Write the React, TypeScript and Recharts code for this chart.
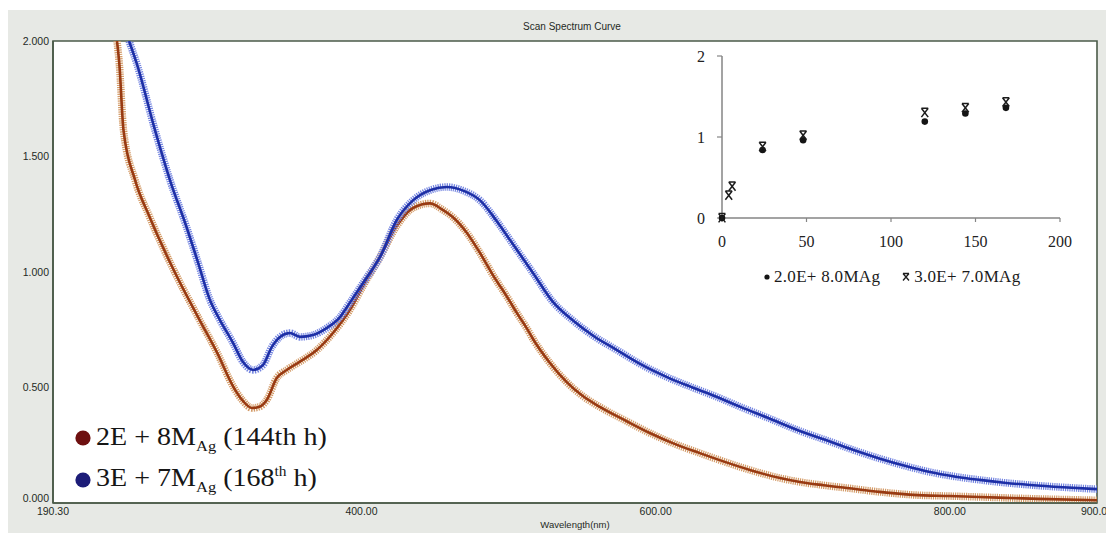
import React from 'react';
import {
  LineChart,
  Line,
  XAxis,
  YAxis,
  CartesianGrid,
  ReferenceArea,
  ScatterChart,
  Scatter,
} from 'recharts';

// Absorbance spectrum, 2E + 8M_Ag sample at the 144th hour
const wavelength2E8M = [
  233.8, 235.4, 238.2, 246, 256, 273, 290, 302, 313, 319, 325.6, 331, 335.6, 342.4,
  349.2, 358.2, 369.6, 380.6, 392, 402, 412.6, 424, 435, 446.6, 455, 462, 471.7, 480.6,
  490, 499, 505.7, 512.5, 516.6, 528, 539.7, 550, 562, 580, 596, 612, 630, 647, 664,
  684.5, 698, 714, 730, 752, 775, 800, 820, 860, 900,
];
const absorbance2E8M = [
  2.0, 1.9, 1.615, 1.4, 1.238, 1.0, 0.792, 0.649, 0.502, 0.445, 0.411, 0.418, 0.446, 0.541,
  0.576, 0.612, 0.662, 0.736, 0.835, 0.95, 1.065, 1.2, 1.277, 1.297, 1.27, 1.238, 1.169, 1.082,
  0.98, 0.892, 0.822, 0.755, 0.71, 0.607, 0.522, 0.465, 0.416, 0.355, 0.303, 0.258, 0.216, 0.178, 0.143,
  0.108, 0.091, 0.077, 0.065, 0.048, 0.035, 0.03, 0.026, 0.018, 0.012,
];

// Absorbance spectrum, 3E + 7M_Ag sample at the 168th hour
const wavelength3E7M = [
  242, 247.2, 259.6, 269.8, 281, 288.8, 297, 303.8, 312.7, 319.5, 326.3, 333, 339, 344.6,
  351.4, 358.2, 367, 376.5, 385.4, 392, 402.4, 412.6, 424, 435, 447, 458, 470, 480.6,
  492, 503, 516.6, 530, 543.8, 558, 573.7, 590, 607.7, 625, 641.7, 658, 675.7, 698,
  718.5, 735, 752.5, 770, 786.5, 803, 820.4, 837, 854.5, 877, 900,
];
const absorbance3E7M = [
  2.0, 1.903, 1.615, 1.398, 1.196, 1.043, 0.879, 0.792, 0.693, 0.61, 0.576, 0.597, 0.675, 0.719,
  0.736, 0.719, 0.727, 0.758, 0.805, 0.866, 0.965, 1.065, 1.225, 1.31, 1.355, 1.368, 1.35, 1.31,
  1.22, 1.12, 0.996, 0.872, 0.79, 0.722, 0.662, 0.6, 0.545, 0.5, 0.459, 0.415, 0.37, 0.312,
  0.266, 0.228, 0.192, 0.16, 0.134, 0.115, 0.1, 0.088, 0.078, 0.068, 0.06,
];

const wavelengthTicks = [190.3, 400, 600, 800, 900];
const absorbanceTicks = [0, 0.5, 1, 1.5, 2];

// Inset: plasmon peak absorbance against reaction time (hours)
const hours2E8M = [0, 24, 48, 120, 144, 168];
const peak2E8M = [0, 0.84, 0.96, 1.19, 1.29, 1.36];
const hours3E7M = [0, 4, 6, 24, 48, 120, 144, 168];
const peak3E7M = [0, 0.28, 0.39, 0.88, 1.02, 1.3, 1.36, 1.43];
const hourTicks = [0, 50, 100, 150, 200];
const peakTicks = [0, 1, 2];

const spectrum2E8M = wavelength2E8M.map((w, i) => ({ w, a: absorbance2E8M[i] }));
const spectrum3E7M = wavelength3E7M.map((w, i) => ({ w, a: absorbance3E7M[i] }));
const inset2E8M = hours2E8M.map((t, i) => ({ t, p: peak2E8M[i] }));
const inset3E7M = hours3E7M.map((t, i) => ({ t, p: peak3E7M[i] }));

const PANEL = '#e7e9e5';
const FRAME = '#4b5b49';
const SERIF = '"Liberation Serif", "Times New Roman", serif';
const SANS = '"Liberation Sans", Arial, sans-serif';

const axisTick = { fontSize: 10.5, fill: '#1f2a1f', fontFamily: SANS };
const insetTick = { fontSize: 16, fill: '#222', fontFamily: SERIF };

// Absorbance labels; the bottom one sits a little above its gridline
const AbsorbanceTick = (props: any) => {
  const { x, y, payload } = props;
  const lift = payload.value === 0 ? -5 : 0;
  return (
    <text x={x} y={y + lift} dy="0.355em" textAnchor="end" {...axisTick}>
      {Number(payload.value).toFixed(3)}
    </text>
  );
};

const DotMark = (props: any) => {
  const { cx, cy } = props;
  if (cx == null || cy == null) return null;
  return <circle cx={cx} cy={cy} r={3.3} fill="#141414" />;
};

const StarMark = (props: any) => {
  const { cx, cy } = props;
  if (cx == null || cy == null) return null;
  const w = 3.4;
  const h = 4.4;
  return (
    <path
      d={`M${cx - w},${cy - h} L${cx + w},${cy + h} M${cx + w},${cy - h} L${cx - w},${cy + h} M${cx - w},${cy - h} H${cx + w}`}
      stroke="#1c1c1c"
      strokeWidth={1.5}
      fill="none"
    />
  );
};

const sampleRows = [
  { color: '#6e1010', lead: '2E + 8M', tail: ['(144th h)'], top: 414 },
  { color: '#1c1c78', lead: '3E + 7M', tail: ['(168', 'th', ' h)'], top: 456 },
];

export default function App() {
  return (
    <div
      style={{
        position: 'relative',
        top: 2,
        width: 1104,
        height: 525,
        background: PANEL,
      }}
    >
      <LineChart width={1104} height={525} margin={{ top: 31, right: 15, bottom: 2, left: 0 }}>
        <CartesianGrid fill="#ffffff" horizontal={false} vertical={false} />
        <XAxis
          type="number"
          dataKey="w"
          domain={[190.3, 900]}
          ticks={wavelengthTicks}
          tickFormatter={(v: number) => v.toFixed(2)}
          tick={axisTick}
          tickLine={false}
          tickSize={0}
          tickMargin={5}
          height={30}
          axisLine={{ stroke: FRAME, strokeWidth: 1.6 }}
          allowDataOverflow
          label={{
            value: 'Wavelength(nm)',
            position: 'insideBottom',
            offset: 5,
            style: { fontSize: 9.5, fill: '#1f2a1f', fontFamily: SANS },
          }}
        />
        <YAxis
          type="number"
          domain={[0, 2]}
          ticks={absorbanceTicks}
          tick={AbsorbanceTick}
          tickLine={false}
          tickSize={0}
          tickMargin={4}
          width={45}
          axisLine={{ stroke: FRAME, strokeWidth: 1.6 }}
          allowDataOverflow
        />
        {/* broad textured band, then a darker centre line, per spectrum */}
        <Line
          data={spectrum2E8M}
          dataKey="a"
          type="monotone"
          stroke="#d39a66"
          strokeWidth={7.5}
          strokeDasharray="1.2 1"
          dot={false}
          isAnimationActive={false}
        />
        <Line
          data={spectrum2E8M}
          dataKey="a"
          type="monotone"
          stroke="#983a12"
          strokeWidth={2.6}
          dot={false}
          isAnimationActive={false}
        />
        <Line
          data={spectrum3E7M}
          dataKey="a"
          type="monotone"
          stroke="#7384e0"
          strokeWidth={7.5}
          strokeDasharray="1.2 1"
          dot={false}
          isAnimationActive={false}
        />
        <Line
          data={spectrum3E7M}
          dataKey="a"
          type="monotone"
          stroke="#1d2fa6"
          strokeWidth={2.6}
          dot={false}
          isAnimationActive={false}
        />
        <ReferenceArea
          x1={190.3}
          x2={900}
          y1={0}
          y2={2}
          fill="none"
          stroke={FRAME}
          strokeWidth={1.6}
          ifOverflow="visible"
        />
      </LineChart>

      {/* chart title */}
      <div
        style={{
          position: 'absolute',
          left: 464,
          width: 200,
          top: 10,
          textAlign: 'center',
          fontFamily: SANS,
          fontSize: 10,
          color: '#1f2a1f',
          lineHeight: '14px',
        }}
      >
        Scan Spectrum Curve
      </div>

      {/* inset: peak absorbance vs time */}
      <div style={{ position: 'absolute', left: 682, top: 35 }}>
        <ScatterChart width={385} height={245} margin={{ top: 11, right: 15, bottom: 42, left: 5 }}>
          <XAxis
            type="number"
            dataKey="t"
            domain={[0, 200]}
            ticks={hourTicks}
            tick={insetTick}
            tickSize={4}
            tickMargin={14}
            height={30}
            axisLine={{ stroke: '#858585', strokeWidth: 1.5 }}
            tickLine={{ stroke: '#858585', strokeWidth: 1.2 }}
          />
          <YAxis
            type="number"
            dataKey="p"
            domain={[0, 2]}
            ticks={peakTicks}
            tick={insetTick}
            tickSize={5}
            tickMargin={12}
            width={27}
            axisLine={{ stroke: '#858585', strokeWidth: 1.5 }}
            tickLine={{ stroke: '#858585', strokeWidth: 1.2 }}
          />
          <Scatter data={inset2E8M} shape={DotMark} isAnimationActive={false} />
          <Scatter data={inset3E7M} shape={StarMark} isAnimationActive={false} />
        </ScatterChart>
        <div
          style={{
            position: 'absolute',
            left: 72,
            top: 222,
            display: 'flex',
            alignItems: 'center',
            fontFamily: SERIF,
            fontSize: 17,
            letterSpacing: 0.3,
            color: '#1a1a1a',
            whiteSpace: 'nowrap',
            lineHeight: '20px',
          }}
        >
          <svg width={10} height={12} style={{ marginRight: 2 }}>
            <circle cx={5} cy={6} r={2.6} fill="#141414" />
          </svg>
          <span>2.0E+ 8.0MAg</span>
          <svg width={12} height={12} style={{ marginLeft: 20, marginRight: 2 }}>
            <path d="M3,2.5 L9,9.5 M9,2.5 L3,9.5 M3,2.5 H9" stroke="#1c1c1c" strokeWidth={1.3} fill="none" />
          </svg>
          <span>3.0E+ 7.0MAg</span>
        </div>
      </div>

      {/* sample legend */}
      {sampleRows.map((row, k) => (
        <div
          key={k}
          style={{
            position: 'absolute',
            left: 67,
            top: row.top,
            height: 28,
            display: 'flex',
            alignItems: 'center',
            fontFamily: SERIF,
            fontSize: 25.5,
            color: '#161616',
            whiteSpace: 'nowrap',
          }}
        >
          <svg width={16} height={16} style={{ marginRight: 5 }}>
            <circle cx={8} cy={8} r={7.6} fill={row.color} />
          </svg>
          <span
            style={{
              lineHeight: '28px',
              display: 'inline-block',
              transform: 'scaleX(1.1)',
              transformOrigin: 'left center',
            }}
          >
            {row.lead}
            <span style={{ fontSize: 15, position: 'relative', top: 6 }}>Ag</span>
            {' '}
            {row.tail.length === 1 ? (
              row.tail[0]
            ) : (
              <>
                {row.tail[0]}
                <span style={{ fontSize: 14, position: 'relative', top: -10 }}>{row.tail[1]}</span>
                {row.tail[2]}
              </>
            )}
          </span>
        </div>
      ))}
    </div>
  );
}
